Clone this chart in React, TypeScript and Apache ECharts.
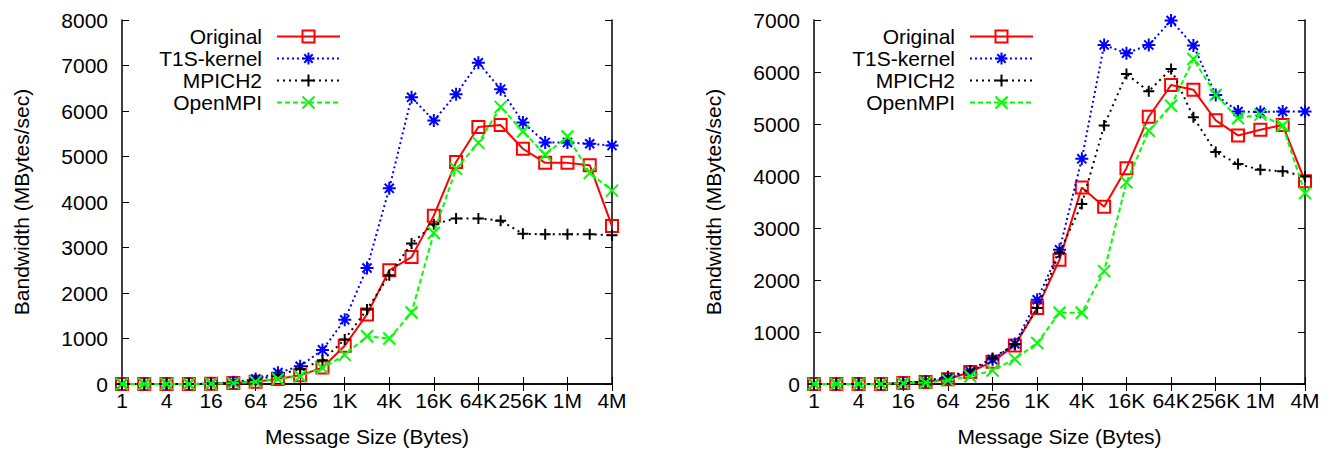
import React, { useEffect, useRef } from "react";
import * as echarts from "echarts";

const categories = ["1", "2", "4", "8", "16", "32", "64", "128", "256", "512", "1K", "2K", "4K", "8K", "16K", "32K", "64K", "128K", "256K", "512K", "1M", "2M", "4M"];
const seriesNames = ["Original", "T1S-kernel", "MPICH2", "OpenMPI"];

// Left panel
const originalLeft = [0, 0, 0, 0, 5, 20, 50, 110, 190, 360, 840, 1530, 2500, 2790, 3700, 4880, 5650, 5690, 5170, 4860, 4860, 4810, 3470];
const t1sLeft = [0, 0, 0, 0, 10, 40, 110, 250, 390, 750, 1410, 2550, 4300, 6300, 5790, 6370, 7060, 6480, 5750, 5310, 5310, 5280, 5240];
const mpichLeft = [0, 0, 0, 0, 5, 25, 90, 200, 330, 520, 980, 1640, 2390, 3090, 3510, 3640, 3640, 3590, 3300, 3290, 3290, 3290, 3270];
const openmpiLeft = [0, 0, 0, 0, 5, 20, 50, 110, 170, 350, 640, 1050, 1000, 1570, 3320, 4730, 5300, 6090, 5550, 5040, 5440, 4640, 4250];

// Right panel
const originalRight = [0, 0, 0, 0, 20, 40, 90, 230, 430, 740, 1460, 2390, 3780, 3410, 4150, 5140, 5750, 5660, 5070, 4780, 4890, 4980, 3900];
const t1sRight = [0, 0, 0, 0, 20, 50, 120, 240, 470, 770, 1620, 2580, 4330, 6520, 6360, 6520, 6990, 6510, 5560, 5240, 5230, 5240, 5240];
const mpichRight = [0, 0, 0, 0, 20, 50, 150, 260, 500, 760, 1460, 2530, 3460, 4970, 5960, 5630, 6060, 5130, 4460, 4230, 4120, 4090, 3990];
const openmpiRight = [0, 0, 0, 0, 15, 30, 70, 150, 260, 480, 790, 1370, 1370, 2170, 3880, 4870, 5350, 6250, 5560, 5110, 5180, 4970, 3670];

const yMaxLeft = 8000;
const yMaxRight = 7000;
const yInterval = 1000;

const FONT = "'Liberation Sans', Arial, Helvetica, sans-serif";
const FS = 21;

const styles = [
  { color: "#ff0000", dash: "solid" as any, symbol: "path://M0 0 L10 0 L10 10 L0 10 Z", size: 12 },
  { color: "#0000ff", dash: [2, 3], symbol: "path://M5 0 L5 10 M0 5 L10 5 M1.5 1.5 L8.5 8.5 M8.5 1.5 L1.5 8.5", size: 13 },
  { color: "#000000", dash: [2, 4], symbol: "path://M5 0 L5 10 M0 5 L10 5", size: 11 },
  { color: "#00ff00", dash: [5, 3], symbol: "path://M0 0 L10 10 M10 0 L0 10", size: 12 },
];

function makeSeries(name: string, idx: number, data: number[], axisIdx: number) {
  const s = styles[idx];
  return {
    name,
    type: "line",
    xAxisIndex: axisIdx,
    yAxisIndex: axisIdx,
    data,
    symbol: s.symbol,
    symbolSize: s.size,
    showAllSymbol: true,
    itemStyle: { color: "transparent", borderColor: s.color, borderWidth: 2 },
    lineStyle: { color: s.color, width: 2, type: s.dash },
    emphasis: { disabled: true },
    z: 2 + idx,
  };
}

function xAxes(gridIndex: number) {
  const base = {
    type: "category",
    gridIndex,
    data: categories,
    boundaryGap: false,
    axisLine: { show: true, lineStyle: { color: "#000", width: 1.5 } },
    axisTick: { show: true, inside: true, length: 7, interval: 1, lineStyle: { color: "#000", width: 1 } },
    splitLine: { show: false },
  };
  return [
    {
      ...base,
      position: "bottom",
      axisLabel: { show: true, interval: 1, margin: 6, fontSize: FS, color: "#000", fontFamily: FONT },
      name: "Message Size (Bytes)",
      nameLocation: "middle",
      nameGap: 42,
      nameTextStyle: { fontSize: FS, color: "#000", fontFamily: FONT },
    },
    { ...base, position: "top", axisLabel: { show: false } },
  ];
}

function yAxes(gridIndex: number, max: number) {
  const base = {
    type: "value",
    gridIndex,
    min: 0,
    max,
    interval: yInterval,
    axisLine: { show: true, lineStyle: { color: "#000", width: 1.5 } },
    axisTick: { show: true, inside: true, length: 7, lineStyle: { color: "#000", width: 1 } },
    splitLine: { show: false },
  };
  return [
    {
      ...base,
      position: "left",
      axisLabel: {
        show: true,
        margin: 14,
        fontSize: FS,
        color: "#000",
        fontFamily: FONT,
        formatter: (v: number) => String(v),
      },
      name: "Bandwidth (MBytes/sec)",
      nameLocation: "middle",
      nameGap: 90,
      nameTextStyle: { fontSize: FS, color: "#000", fontFamily: FONT },
    },
    { ...base, position: "right", axisLabel: { show: false } },
  ];
}

function legends(right: number) {
  const tops = [26, 48, 70, 92];
  return seriesNames.map((n, i) => ({
    data: [n],
    orient: "vertical",
    align: "right",
    right,
    top: tops[i],
    padding: 0,
    itemWidth: 63,
    itemHeight: 15,
    selectedMode: false,
    textStyle: { fontSize: FS, color: "#000", fontFamily: FONT, padding: [0, 10, 0, 0] },
  }));
}

export default function App() {
  const ref = useRef<HTMLDivElement>(null);
  useEffect(() => {
    if (!ref.current) return;
    const chart = echarts.init(ref.current, undefined, { renderer: "svg" });
    const xa = [...xAxes(0), ...xAxes(1)];
    const ya = [...yAxes(0, yMaxLeft), ...yAxes(1, yMaxRight)];
    const option: any = {
      animation: false,
      backgroundColor: "#fff",
      textStyle: { fontFamily: FONT },
      grid: [
        { left: 122, top: 20, width: 490, height: 364 },
        { left: 814, top: 20, width: 491, height: 364 },
      ],
      xAxis: xa,
      yAxis: ya,
      legend: [...legends(992), ...legends(299)],
      series: [
        makeSeries(seriesNames[0], 0, originalLeft, 0),
        makeSeries(seriesNames[1], 1, t1sLeft, 0),
        makeSeries(seriesNames[2], 2, mpichLeft, 0),
        makeSeries(seriesNames[3], 3, openmpiLeft, 0),
        makeSeries(seriesNames[0], 0, originalRight, 2),
        makeSeries(seriesNames[1], 1, t1sRight, 2),
        makeSeries(seriesNames[2], 2, mpichRight, 2),
        makeSeries(seriesNames[3], 3, openmpiRight, 2),
      ],
    };
    chart.setOption(option);
    return () => chart.dispose();
  }, []);
  return (
    <div
      ref={ref}
      style={{ position: "absolute", left: 0, top: 0, width: 1333, height: 454, background: "#fff" }}
    />
  );
}
